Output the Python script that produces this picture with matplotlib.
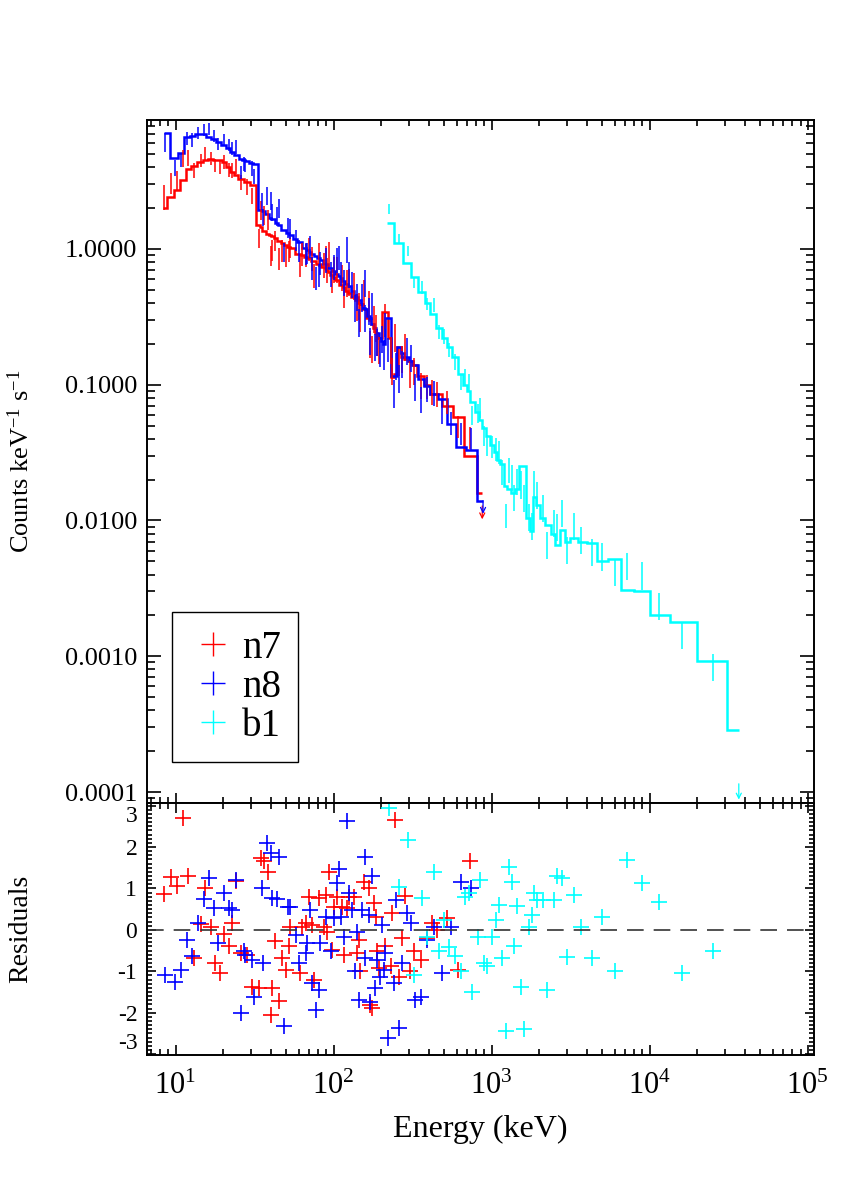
import numpy as np
import matplotlib
matplotlib.use("Agg")
import matplotlib.pyplot as plt
from matplotlib.lines import Line2D
from matplotlib.ticker import LogLocator, MultipleLocator, FuncFormatter, NullFormatter

plt.rcParams['font.family'] = ['Liberation Serif', 'DejaVu Serif']
plt.rcParams['mathtext.fontset'] = 'custom'
plt.rcParams['mathtext.rm'] = 'Liberation Serif'
plt.rcParams['mathtext.it'] = 'Liberation Serif:italic'
plt.rcParams['axes.unicode_minus'] = False

# ---- n7 (NaI) : bin centres, folded model, residuals, 1-sigma error (dex)
n7_energy = [8.4, 9.3, 10.2, 11.2, 12.0, 13.0, 14.4, 15.3, 16.7, 17.7, 19.0, 20.2, 21.7, 22.8,
             24.0, 25.8, 28.4, 30.6, 33.7, 34.5, 36.2, 38.6, 39.9, 40.8, 42.9, 45.2, 47.3, 49.7,
             52.2, 53.3, 61.7, 63.3, 66.5, 69.8, 73.4, 75.0, 80.7, 86.8, 89.0, 91.0, 93.4, 97.8,
             100, 105, 113, 116, 122, 125, 134, 140, 145, 148, 155, 167, 170, 175, 180, 185, 189,
             193, 213, 230, 235, 245, 259, 272, 285, 305, 322, 356, 390, 420, 450, 522, 616, 730]
n7_model = [2.0, 2.4, 2.7, 3.2, 3.9, 4.1, 4.4, 4.5, 4.6, 4.5, 4.5, 4.4, 4.0, 3.7,
            3.5, 3.3, 3.1, 2.95, 1.5, 1.45, 1.35, 1.28, 1.26, 1.24, 1.2, 1.15, 1.1, 1.06,
            1.03, 1.01, 0.92, 0.9, 0.87, 0.85, 0.82, 0.81, 0.77, 0.74, 0.72, 0.70, 0.68, 0.64,
            0.62, 0.59, 0.54, 0.52, 0.49, 0.47, 0.44, 0.42, 0.40, 0.39, 0.36, 0.31, 0.30, 0.28,
            0.26, 0.24, 0.23, 0.22, 0.345, 0.22, 0.114, 0.12, 0.19, 0.16, 0.155, 0.15, 0.14,
            0.115, 0.10, 0.085, 0.085, 0.07, 0.058, 0.03]
n7_resid = [0.86, 1.28, 1.06, 2.69, 1.30, -0.68, 0.14, 1.0, 0.07, -0.79, -1.04, -0.1, -0.4, 0.16,
            1.18, -0.56, -0.6, -1.37, -1.41, 1.73, 1.65, 1.40, -2.05, -1.41, -0.28, -1.71, -0.68,
            -0.96, -0.4, 0.08, -1.04, 0.08, 0.16, 0.8, 0.12, -1.2, 0.76, 0.08, 0.84, -0.04, 1.40,
            -0.48, 0.56, 0.8, 0.56, -0.6, 0.52, 0.8, 0.8, -0.56, -0.24, -1.0, 1.16, 1.0, -1.81,
            -1.89, 0.64, 0.32, -0.52, -0.92, -0.4, -0.88, 0.4, 2.65, -1.13, -0.2, 0.82, -1.0,
            -0.52, -0.72, -0.2, 0.16, 0.0, 0.28, -0.96, 1.66]
n7_sigma = [0.09, 0.08, 0.07, 0.06, 0.06, 0.055, 0.05, 0.05, 0.05, 0.05, 0.05, 0.05, 0.05, 0.055,
            0.055, 0.055, 0.06, 0.06, 0.07, 0.07, 0.07, 0.075, 0.075, 0.075, 0.075, 0.08, 0.08, 0.08,
            0.08, 0.08, 0.085, 0.085, 0.085, 0.085, 0.09, 0.09, 0.09, 0.09, 0.09, 0.09, 0.09, 0.09,
            0.095, 0.095, 0.095, 0.095, 0.1, 0.1, 0.1, 0.1, 0.1, 0.1, 0.1, 0.1, 0.1, 0.1,
            0.1, 0.1, 0.1, 0.1, 0.09, 0.1, 0.1, 0.1, 0.1, 0.1, 0.1, 0.1, 0.1,
            0.095, 0.09, 0.09, 0.09, 0.085, 0.08, 0.08]
n7_start = 8.3
n7_ulbin = [810, 875, 0.016]      # lo, hi, model of last (upper-limit) bin
n7_ularrow = [872, 0.0128, 0.0102]

# ---- n8 (NaI)
n8_energy = [8.6, 9.9, 10.8, 11.9, 12.7, 13.9, 15.1, 16.3, 17.5, 18.6, 20.2, 21.7, 22.8, 24.3,
             25.8, 27.0, 27.7, 30.6, 31.5, 35.0, 36.0, 37.9, 39.9, 40.8, 43.9, 45.2, 48.5, 51.7,
             53.3, 57.5, 60.3, 66.5, 68.2, 71.3, 73.4, 76.9, 80.7, 82.6, 89.0, 95.8, 100, 105,
             108, 111, 116, 121, 125, 131, 137, 140, 145, 152, 157, 159, 167, 171, 176, 183,
             189, 198, 203, 207, 213, 222, 240, 247, 259, 272, 290, 307, 329, 356, 390, 430,
             485, 557, 640, 740]
n8_model = [7.2, 4.7, 5.1, 6.7, 6.8, 7.0, 7.0, 6.7, 6.4, 6.1, 5.8, 5.5, 5.2, 4.9,
            4.6, 4.5, 4.45, 4.3, 4.2, 1.95, 1.9, 1.8, 1.7, 1.65, 1.55, 1.5, 1.38, 1.3,
            1.27, 1.18, 1.12, 1.02, 0.98, 0.95, 0.92, 0.88, 0.85, 0.83, 0.77, 0.72, 0.69, 0.65,
            0.63, 0.61, 0.58, 0.55, 0.53, 0.49, 0.46, 0.44, 0.42, 0.39, 0.37, 0.36, 0.32, 0.31,
            0.28, 0.26, 0.24, 0.22, 0.21, 0.2, 0.31, 0.31, 0.115, 0.115, 0.19, 0.17, 0.16, 0.15,
            0.14, 0.11, 0.097, 0.085, 0.078, 0.051, 0.035, 0.033]
n8_resid = [-1.08, -1.25, -0.96, -0.24, -0.64, 0.16, 0.74, 1.25, 0.52, -0.32, 0.9, 0.52, 0.48, 1.2,
            -2.0, -0.52, -0.6, -0.72, -1.61, 1.0, -0.8, 2.09, 1.85, 0.76, 0.74, 1.75, -2.33, 0.56,
            0.55, -0.12, -0.8, -0.56, -0.32, 0.48, -1.29, -1.93, -1.45, -0.32, 0.32, -0.52, 0.28,
            1.12, 1.48, 0.32, -0.16, 2.63, 0.88, 0.48, -1.0, -0.04, -1.69, 0.48, 1.77, -0.68, 0.36,
            -1.73, 1.30, -1.41, -0.72, -1.13, 0.12, -0.96, -0.56, -2.61, -1.29, 0.72, -2.37, -0.8,
            0.4, 0.16, -1.69, -1.62, -0.24, 0.08, -1.04, 0.08, 1.16, 1.02]
n8_sigma = [0.07, 0.06, 0.055, 0.05, 0.05, 0.045, 0.045, 0.045, 0.045, 0.045, 0.045, 0.045, 0.05, 0.05,
            0.05, 0.05, 0.05, 0.055, 0.055, 0.06, 0.06, 0.065, 0.065, 0.065, 0.07, 0.07, 0.07, 0.075,
            0.075, 0.075, 0.08, 0.08, 0.08, 0.08, 0.085, 0.085, 0.085, 0.085, 0.09, 0.09, 0.09, 0.09,
            0.09, 0.09, 0.095, 0.095, 0.095, 0.095, 0.1, 0.1, 0.1, 0.1, 0.1, 0.1, 0.1, 0.1,
            0.1, 0.1, 0.1, 0.1, 0.1, 0.1, 0.09, 0.09, 0.1, 0.1, 0.1, 0.1, 0.1, 0.1,
            0.1, 0.095, 0.09, 0.09, 0.09, 0.085, 0.08, 0.08]
n8_start = 8.45
n8_ulbin = [810, 885, 0.014]
n8_ularrow = [882, 0.0140, 0.0112]

# ---- b1 (BGO)
b1_energy = [223, 259, 296, 322, 364, 390, 430, 464, 500, 540, 583, 637, 683, 715, 755, 816,
             850, 890, 940, 1000, 1060, 1110, 1160, 1230, 1290, 1350, 1380, 1450, 1530, 1600,
             1720, 1800, 1850, 1940, 2100, 2250, 2470, 2600, 2800, 3000, 3300, 3700, 4300,
             5000, 6000, 7200, 8900, 11400, 16000, 25000]
b1_model = [1.55, 1.1, 0.79, 0.62, 0.48, 0.40, 0.33, 0.26, 0.22, 0.19, 0.16, 0.12, 0.10, 0.09,
            0.075, 0.063, 0.055, 0.048, 0.042, 0.036, 0.032, 0.028, 0.026, 0.018, 0.017, 0.016,
            0.016, 0.017, 0.025, 0.025, 0.0104, 0.0083, 0.015, 0.013, 0.0104, 0.0092, 0.008,
            0.0066, 0.0085, 0.007, 0.0074, 0.007, 0.0068, 0.005, 0.0052, 0.0031, 0.003, 0.002,
            0.0018, 0.00093]
b1_resid = [2.93, 1.03, 2.18, -1.08, 0.76, -0.16, 1.40, -0.52, 0.24, -0.42, -0.62, -1.0, 0.8,
            0.88, -1.49, -0.16, 1.2, -0.8, -0.88, -0.16, 0.24, 0.6, -0.68, -2.45, 1.52, 1.16,
            -0.4, 0.58, -1.37, -2.39, 0.08, 0.36, 0.88, 0.72, 0.72, -1.45, 0.72, 1.3, 1.25,
            -0.65, 0.85, 0.06, -0.68, 0.32, -1.0, 1.69, 1.14, 0.68, -1.04, -0.52]
b1_sigma = [0.035, 0.035, 0.04, 0.04, 0.045, 0.045, 0.05, 0.05, 0.055, 0.055, 0.06, 0.06, 0.065,
            0.065, 0.07, 0.07, 0.075, 0.075, 0.08, 0.08, 0.085, 0.085, 0.09, 0.09, 0.09, 0.095,
            0.095, 0.095, 0.1, 0.1, 0.1, 0.1, 0.1, 0.1, 0.1, 0.1, 0.1, 0.1, 0.1,
            0.1, 0.1, 0.1, 0.1, 0.1, 0.1, 0.1, 0.1, 0.1, 0.1, 0.1]
b1_start = 218
b1_ulbin = [31000, 36600, 0.000285]
b1_ularrow = [36600, 0.000115, 0.000088]

labels = ['n7', 'n8', 'b1']
colors = ['#ff0000', '#0000ff', '#00ffff']
resid_ticks = [-3, -2, -1, 0, 1, 2, 3]


def bin_edges(centres, start, stop):
    c = np.asarray(centres, dtype=float)
    return np.concatenate([[start], np.sqrt(c[:-1] * c[1:]), [stop]])


fig = plt.figure(figsize=(8.57, 12), dpi=100)
ax1 = fig.add_axes([0.1715, 0.3308, 0.778, 0.5692])
ax2 = fig.add_axes([0.1715, 0.1208, 0.778, 0.2100])

dets = [
    (n7_energy, n7_model, n7_resid, n7_sigma, n7_start, n7_ulbin, n7_ularrow, colors[0]),
    (n8_energy, n8_model, n8_resid, n8_sigma, n8_start, n8_ulbin, n8_ularrow, colors[1]),
    (b1_energy, b1_model, b1_resid, b1_sigma, b1_start, b1_ulbin, b1_ularrow, colors[2]),
]

for energy, model, resid, sigma, start, ulbin, ularrow, col in dets:
    e = np.asarray(energy, float)
    m = np.asarray(model, float)
    r = np.asarray(resid, float)
    s = np.asarray(sigma, float)
    edges = np.append(bin_edges(e, start, ulbin[0]), ulbin[1])
    vals = np.append(m, ulbin[2])
    # data points: model shifted by residual (in units of the error)
    d = m * 10 ** (r * s)
    ax1.vlines(e, d * 10 ** (-s), d * 10 ** s, color=col, lw=1.1)
    ax1.stairs(vals, edges, baseline=None, color=col, lw=1.8)
    ax1.annotate('', xy=(ularrow[0], ularrow[2]), xytext=(ularrow[0], ularrow[1]),
                 arrowprops=dict(arrowstyle='->', color=col, lw=0.9, mutation_scale=9,
                                 shrinkA=0, shrinkB=0))
    ax2.plot(e, r, ls='none', marker='+', ms=11, mew=1.2, color=col, clip_on=True)

xlim = (6.6, 1.09e5)
for ax in (ax1, ax2):
    ax.set_xscale('log')
    ax.set_xlim(*xlim)
    ax.xaxis.set_major_locator(LogLocator(base=10, numticks=10))
    ax.xaxis.set_minor_locator(LogLocator(base=10, subs=np.arange(2, 10), numticks=20))
    ax.xaxis.set_minor_formatter(NullFormatter())
    ax.tick_params(which='both', direction='in', top=True, right=True, width=1.2)
    ax.tick_params(axis='x', which='major', length=7.5, pad=12)
    ax.tick_params(axis='x', which='minor', length=4.3)
    for sp in ax.spines.values():
        sp.set_linewidth(1.4)

# top panel
ax1.set_yscale('log')
ax1.set_ylim(8.3e-5, 8.9)
ax1.yaxis.set_major_locator(LogLocator(base=10, numticks=10))
ax1.yaxis.set_minor_locator(LogLocator(base=10, subs=np.arange(2, 10), numticks=20))
ax1.yaxis.set_minor_formatter(NullFormatter())
ax1.yaxis.set_major_formatter(FuncFormatter(lambda v, p: '%.4f' % v))
ax1.tick_params(axis='y', which='major', length=10, labelsize=19, pad=7)
ax1.tick_params(axis='y', which='minor', length=5.5)
ax1.tick_params(axis='x', labelbottom=False)
ax1.set_ylabel(r'Counts keV$^{-1}$ s$^{-1}$', fontsize=19)
ax1.yaxis.set_label_coords(-0.17, 0.5)

handles = [Line2D([], [], ls='none', marker='+', ms=17, mew=1.0, color=c) for c in colors]
leg = ax1.legend(handles, labels, loc='lower left', bbox_to_anchor=(0.0375, 0.06),
                 borderaxespad=0, fontsize=28, frameon=True, fancybox=False,
                 edgecolor='black', framealpha=1, handlelength=1.2, handletextpad=0.15,
                 labelspacing=0.05, borderpad=0.45)
leg.get_frame().set_linewidth(1.0)

# residual panel
ax2.axhline(0, color='#333333', lw=1.2, dashes=(10, 6))
ax2.set_ylim(-3.02, 3.06)
ax2.set_yticks(resid_ticks)
ax2.set_yticklabels([str(t) for t in resid_ticks])
ax2.yaxis.set_minor_locator(MultipleLocator(0.1))
ax2.tick_params(axis='y', which='major', length=6.5, labelsize=17, pad=7)
ax2.tick_params(axis='y', which='minor', length=3.4)
ax2.tick_params(axis='x', labelsize=22)
ticks = ax2.yaxis.get_major_ticks()
ticks[0].label1.set_va('bottom')
ticks[-1].label1.set_va('top')
ax2.set_ylabel('Residuals', fontsize=20)
ax2.yaxis.set_label_coords(-0.17, 0.5)
ax2.set_xlabel('Energy (keV)', fontsize=23, labelpad=10)

fig.savefig('out.png', dpi=100)
